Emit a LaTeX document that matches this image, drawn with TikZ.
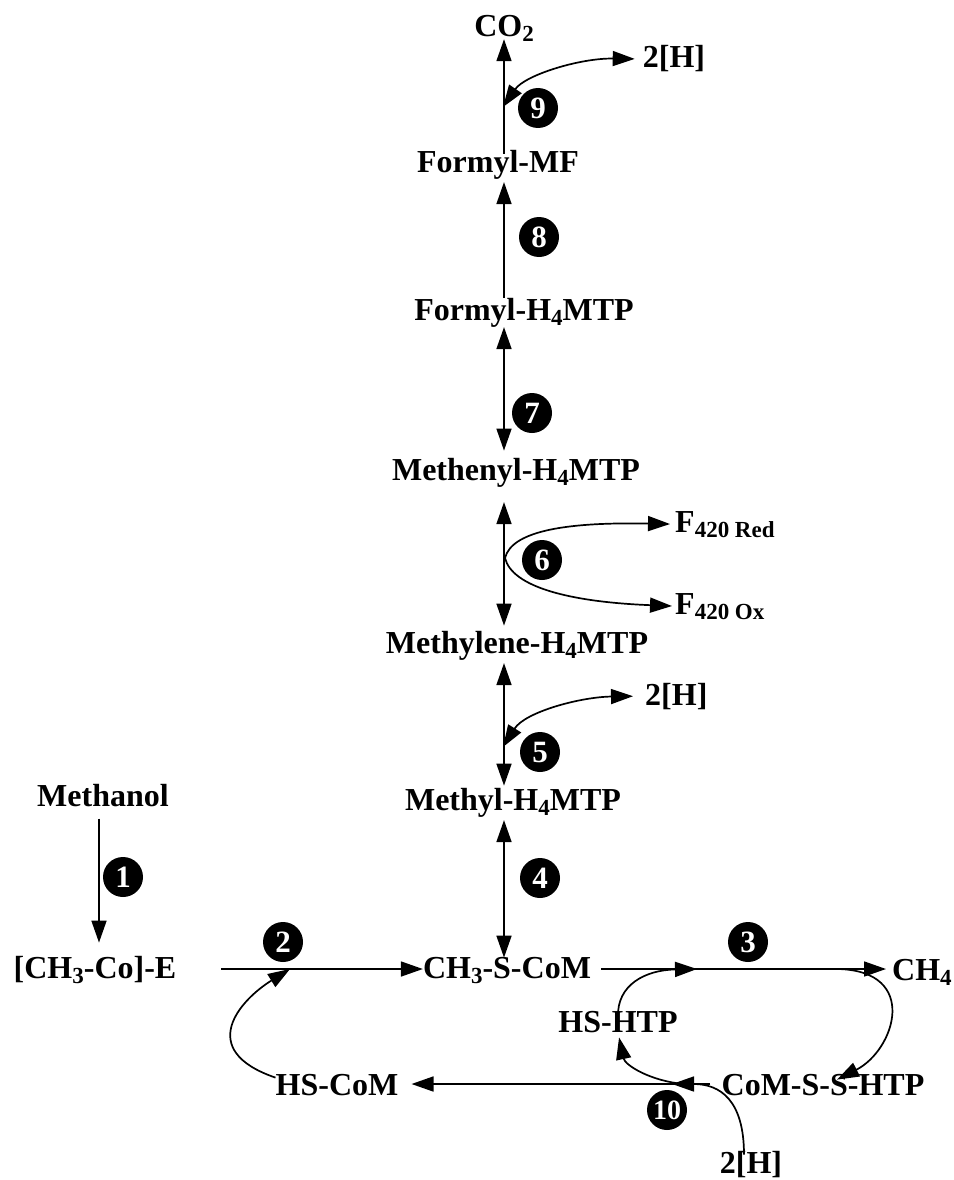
\documentclass[tikz,border=0pt]{standalone}
\usepackage{fontspec}
\usepackage{graphicx}
\setmainfont{Liberation Serif}
\usetikzlibrary{arrows.meta,calc}

% lowered, smaller index used in the chemical names
\newcommand\lowidx[1]{\raisebox{-5pt}{\fontsize{23}{23}\selectfont #1}}

\tikzset{
  chem/.style={anchor=base, inner sep=0pt, font=\fontsize{32}{36}\selectfont\bfseries},
  chemw/.style={chem, anchor=base west},
  stepnum/.style={circle, fill=black, text=white, minimum size=40pt, inner sep=0pt,
                  font=\fontsize{31}{31}\selectfont\bfseries},
  arr/.style={line width=1.7pt, -{Triangle[length=22pt,width=15pt]}},
  arrboth/.style={line width=1.7pt, {Triangle[length=22pt,width=15pt]}-{Triangle[length=22pt,width=15pt]}},
}

\begin{document}
\begin{tikzpicture}[x=1pt, y=-1pt]
\useasboundingbox (0,0) rectangle (953,1180);

% main axis of the pathway
\coordinate (ax) at (504,0);

% compounds
\node[chem] (co2)    at (504,37)  {CO\lowidx{2}};
\node[chem] (h9)     at (674,68)  {2[H]};
\node[chem] (fmf)    at (498,172) {Formyl-MF};
\node[chem] (fh4)    at (524,320) {Formyl-H\lowidx{4}MTP};
\node[chem] (meth)   at (516,480) {Methenyl-H\lowidx{4}MTP};
\node[chemw] (fred)  at (675,532) {F\lowidx{420 Red}};
\node[chemw] (fox)   at (675,614) {F\lowidx{420 Ox}};
\node[chem] (mlene)  at (517,653) {Methylene-H\lowidx{4}MTP};
\node[chemw] (h5)    at (645,705) {2[H]};
\node[chem] (methyl) at (513,810) {Methyl-H\lowidx{4}MTP};
\node[chem] (mtoh)   at (103,806) {Methanol};
\node[chem] (ch3co)  at (95,978)  {[CH\lowidx{3}-Co]-E};
\node[chem] (ch3s)   at (507,978) {CH\lowidx{3}-S-CoM};
\node[chemw] (ch4)   at (892,980) {CH\lowidx{4}};
\node[chem] (hshtp)  at (618,1032) {HS-HTP};
\node[chem] (comss)  at (823,1095) {CoM-S-S-HTP};
\node[chem] (hscom)  at (337,1095) {HS-CoM};
\node[chem] (h10)    at (751,1173) {2[H]};

% step numbers
\node[stepnum] (s1) at (123,877) {1};
\node[stepnum] (s2) at (283,942) {2};
\node[stepnum] (s3) at (748,942) {3};
\node[stepnum] (s4) at (540,878) {4};
\node[stepnum] (s5) at (540,752) {5};
\node[stepnum] (s6) at (542,560) {6};
\node[stepnum] (s7) at (532,413) {7};
\node[stepnum] (s8) at (539,237) {8};
\node[stepnum] (s9) at (538,108) {9};
\node[stepnum, font=\fontsize{28}{28}\selectfont\bfseries] (s10) at (667,1110) {10};

% branch points on the reactions
\coordinate (p9) at (503,107);
\coordinate (p6) at (505,558);
\coordinate (p5) at (503,747);
\coordinate (p2) at (290,969);
\coordinate (p3a) at (697,969);
\coordinate (p3b) at (838,969);
\coordinate (p10) at (672,1084);
\coordinate (p10b) at (684,1084);

% oxidative branch
\draw[arr, shorten <=-4pt, shorten >=-3pt] (fmf.north -| ax) -- (co2.south -| ax);
\draw[arrboth, shorten >=8pt] (p9) .. controls (525,75) and (580,58) .. (h9.west);
\draw[arr, shorten >=3pt] (fh4.north -| ax) -- (fmf.south -| ax);
\draw[arrboth, shorten >=7pt] (fh4.south -| ax) -- (meth.north -| ax);
\draw[arrboth, shorten <=15pt, shorten >=5pt] (meth.south -| ax) -- (mlene.north -| ax);
\draw[arr, shorten >=5pt] (p6) .. controls (512,530) and (570,522) .. (fred.west);
\draw[arr, shorten >=3pt] (p6) .. controls (512,587) and (570,602) .. (fox.west);
\draw[arrboth, shorten <=3pt, shorten >=2pt] (mlene.south -| ax) -- (methyl.north -| ax);
\draw[arrboth, shorten >=12pt] (p5) .. controls (525,712) and (580,697) .. (h5.west);
\draw[arrboth, shorten <=3pt, shorten >=-1pt] (methyl.south -| ax) -- (ch3s.north -| ax);

% methanol entry
\draw[arr, shorten <=12pt, shorten >=13pt] ([xshift=-4pt]mtoh.south) -- ([xshift=4pt]ch3co.north);
\draw[arr] ([xshift=45pt]ch3co.east |- p2) -- (ch3s.west |- p2);
\draw[arr] ([yshift=-4pt]hscom.north west) .. controls (195,1050) and (240,1000) .. (p2);

% methane formation and disulfide reduction
\draw[arr] ([xshift=10pt]ch3s.east |- p3a) -- ([xshift=-6pt]ch4.west |- p3a);
\draw[arr] ([yshift=-6pt]hshtp.north) .. controls (617,985) and (645,970) .. (p3a);
\draw[arr] (p3b) .. controls (920,971) and (895,1050) .. ([xshift=14pt,yshift=-6pt]comss.north);
\draw[arr] ([xshift=-11pt]comss.west |- p10) -- ([xshift=13pt]hscom.east |- p10);
\draw[arr] ([xshift=-7pt,yshift=-4pt]h10.north) .. controls (744,1100) and (720,1084) .. (p10);
\draw[arr, shorten >=5pt] (p10b) .. controls (650,1081) and (625,1065) .. (hshtp.south);
\end{tikzpicture}
\end{document}
